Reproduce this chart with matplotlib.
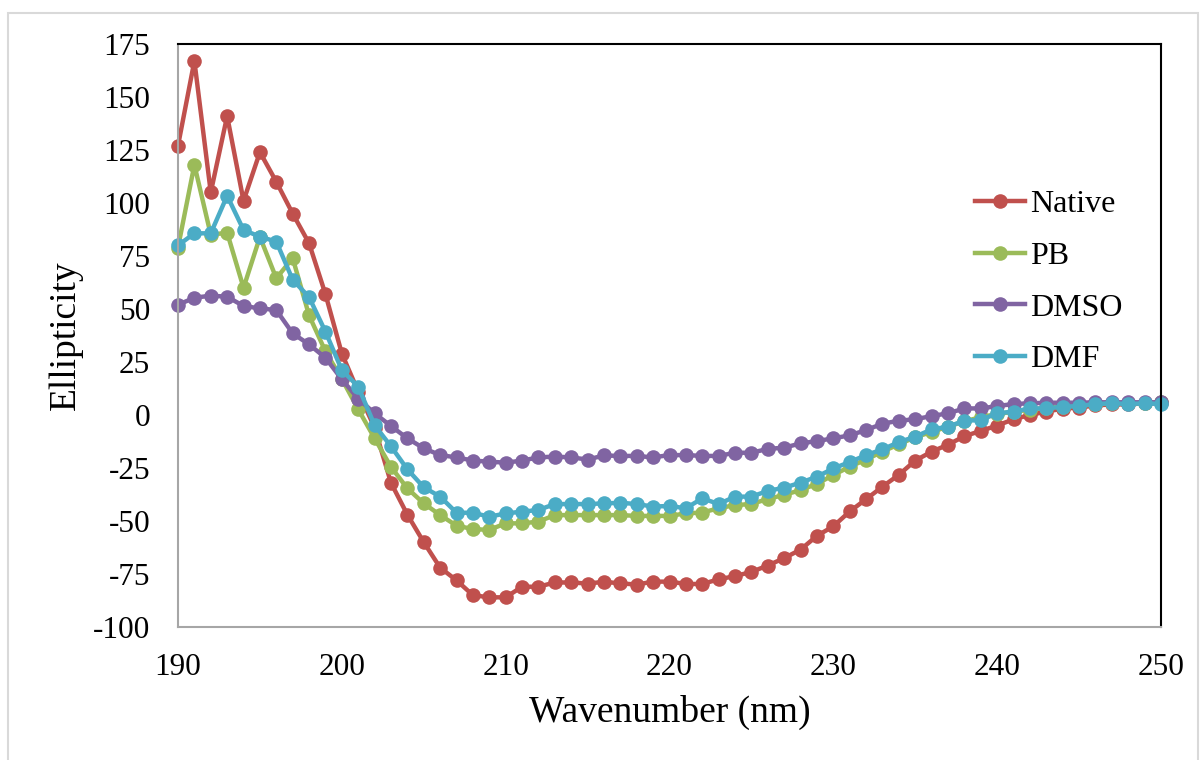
import matplotlib
matplotlib.use("Agg")
import matplotlib.pyplot as plt
from matplotlib.patches import Rectangle

wavelength = list(range(190, 251))

native = [127, 167, 105, 141, 101, 124, 110, 95, 81, 57,
          29, 11, -6, -32, -47, -60, -72, -78, -85, -86,
          -86, -81, -81, -79, -79, -79.5, -78.7, -79.4, -80, -78.6,
          -78.6, -79.7, -79.7, -77.5, -76, -74, -71, -67.5, -63.5, -57,
          -52.5, -45.5, -39.7, -33.8, -28.2, -21.5, -17.3, -14, -10, -7.5,
          -5, -2, 0, 1.6, 3, 3.5, 4.5, 5, 5, 5.5,
          5.5]

pb = [79, 118, 85, 86, 60, 84, 64.5, 74, 47, 30,
      17, 2.7, -11, -24.5, -34.6, -41.7, -47.2, -52.2, -53.8, -54.2,
      -51.1, -51.1, -50.3, -47.2, -47.2, -47.2, -47.2, -47.2, -47.6, -47.6,
      -47.6, -46.4, -46, -44, -42.5, -42, -39.6, -37.7, -35.4, -32.5,
      -28.3, -24.4, -21, -17.3, -13.8, -10.5, -8, -5.5, -3, -1,
      0.5, 1.5, 2.5, 3.5, 4, 4.5, 5, 5.5, 5.5, 5.5,
      6]

dmso = [52, 55.3, 56.3, 55.8, 51.4, 50.3, 49.5, 38.5, 33.3, 27,
        16.8, 7.7, 0.8, -5.2, -11, -15.7, -18.9, -20, -21.5, -22,
        -22.5, -21.5, -20, -19.6, -20, -21, -19.1, -19.3, -19.3, -20,
        -18.9, -18.9, -19.3, -19.3, -17.8, -17.8, -16, -15.4, -13.4, -12.3,
        -11, -9.6, -7.1, -4.1, -2.7, -2, -0.5, 0.8, 3.1, 3.1,
        4.2, 5.2, 5.5, 5.8, 5.8, 5.8, 6, 6, 6, 6,
        6]

dmf = [80, 85.7, 85.7, 103.4, 87.3, 84.1, 81.8, 63.8, 55.6, 39.3,
       21.2, 13.4, -4.8, -14.8, -25.6, -34.1, -38.5, -46.1, -46.1, -48,
       -46.4, -45.6, -44.8, -42, -42, -42, -41.7, -41.4, -42, -43.2,
       -42.9, -44, -39.3, -42, -38.5, -38.5, -35.8, -34.3, -31.9, -29.1,
       -25.2, -22.2, -18.9, -16.2, -12.8, -10.2, -6.8, -5.5, -2.7, -2.4,
       0.8, 1.6, 3.1, 3.1, 3.9, 4.2, 5.2, 5.5, 5.2, 5.5,
       5.2]

series_names = ["Native", "PB", "DMSO", "DMF"]
colors = ["#C0504D", "#9BBB59", "#8064A2", "#4BACC6"]

xticks = [190, 200, 210, 220, 230, 240, 250]
yticks = [-100, -75, -50, -25, 0, 25, 50, 75, 100, 125, 150, 175]

plt.rcParams['font.family'] = ['Liberation Serif', 'DejaVu Serif']

fig = plt.figure(figsize=(12, 7.6), dpi=100)
fig.patch.set_facecolor("white")

# outer chart border
fig.patches.append(Rectangle((8 / 1200, -0.01), 1190 / 1200, 1 - 13 / 760 + 0.01,
                             transform=fig.transFigure, fill=False,
                             edgecolor="#D9D9D9", linewidth=1.5, zorder=0))

ax = fig.add_axes([178 / 1200, 1 - 627 / 760, 983 / 1200, 583 / 760])

for data, name, c in zip([native, pb, dmso, dmf], series_names, colors):
    ax.plot(wavelength, data, color=c, linewidth=3.2, marker="o",
            markersize=10.5, markeredgewidth=0, label=name, clip_on=False)

ax.set_xlim(190, 250)
ax.set_ylim(-100, 175)
ax.set_xticks(xticks)
ax.set_yticks(yticks)
ax.set_xticklabels([str(v) for v in xticks])
ax.set_yticklabels([str(v) for v in yticks])
ax.tick_params(axis="both", length=0, labelsize=22.5)
ax.tick_params(axis="y", pad=20)
ax.tick_params(axis="x", pad=19)

ax.spines["top"].set_color("black")
ax.spines["right"].set_color("black")
ax.spines["top"].set_linewidth(1.5)
ax.spines["right"].set_linewidth(1.5)
ax.spines["left"].set_color("#A6A6A6")
ax.spines["bottom"].set_color("#A6A6A6")
ax.spines["left"].set_linewidth(1.5)
ax.spines["bottom"].set_linewidth(1.5)

ax.set_xlabel("Wavenumber (nm)", fontsize=27, labelpad=9)
ax.set_ylabel("Ellipticity", fontsize=27, labelpad=7)

leg = ax.legend(loc="upper left", bbox_to_anchor=(0.811, 0.75), frameon=False,
                fontsize=23, handlelength=1.56, handletextpad=0.15,
                labelspacing=0.7, borderaxespad=0, borderpad=0)

fig.savefig("out.png", dpi=100, facecolor="white")
